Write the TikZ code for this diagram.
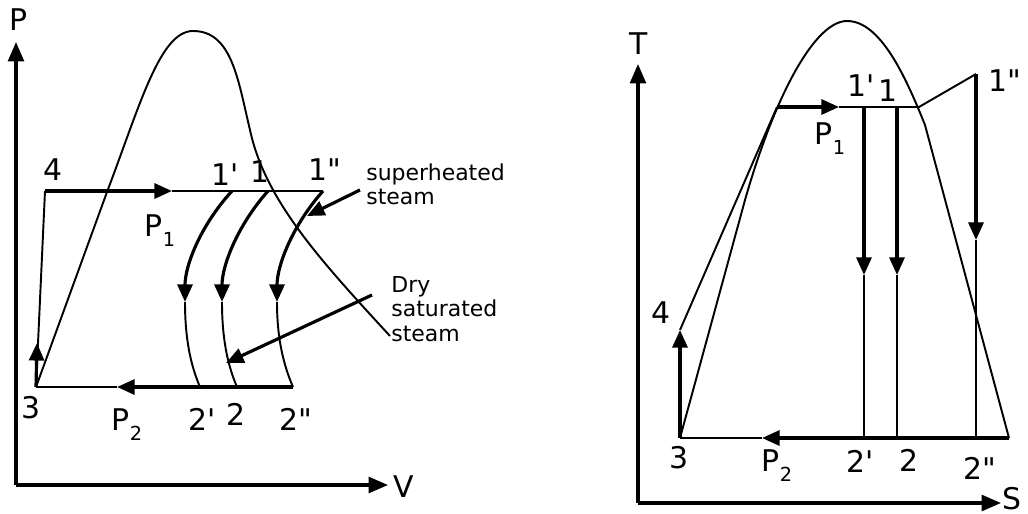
\documentclass[tikz,border=0pt]{standalone}
\usepackage{fontspec}
\setmainfont{DejaVu Sans}
\usetikzlibrary{arrows.meta,positioning}

\tikzset{
  axis/.style={line width=1.8pt, -{Triangle[length=11pt,width=9pt]}},
  flow/.style={line width=1.8pt, -{Triangle[length=10pt,width=8.5pt]}},
  thinline/.style={line width=1.1pt},
  lbl/.style={font=\fontsize{17}{20}\selectfont, inner sep=0pt},
  note/.style={font=\fontsize{12.5}{14}\selectfont, align=left, inner sep=0pt, anchor=north west},
}
\newcommand{\psub}[1]{P\raisebox{-0.6ex}{\fontsize{11}{11}\selectfont #1}}
\newcommand{\pr}{\textquotesingle}
\newcommand{\dpr}{\textquotedbl}

\begin{document}
\begin{tikzpicture}[x=0.02cm, y=-0.02cm, line join=round]
        \useasboundingbox (0,0) rectangle (1028,514);

        % ---------------- P-V diagram ----------------
        % Axes
        \coordinate (pv o) at (16,485);
        \coordinate (pv top) at (16,42);
        \coordinate (pv right) at (388,485);
        \draw[axis] (pv o) -- (pv top);
        \draw[axis] (pv o) -- (pv right);
        \node[lbl] (P) at (19,20) {P};
        \node[lbl] (V) at (404,487) {V};

        % Saturation curve
        \draw[thinline] (36,387) -- (107,192)
            .. controls (140,105) and (160,31) .. (193,31)
            .. controls (232,31) and (238,80) .. (250,130)
            .. controls (265,200) and (320,260) .. (390,336);

        % Cycle points
        \coordinate (a3) at (36,387);
        \coordinate (a4) at (45,191);
        \coordinate (a1p) at (232,191);
        \coordinate (a1) at (268,191);
        \coordinate (a1pp) at (323,191);
        \coordinate (a2p) at (200,387);
        \coordinate (a2) at (237,387);
        \coordinate (a2pp) at (293,387);

        % 3 -> 4
        \draw[thinline] (a3) -- (a4);
        \coordinate (a34) at (37,343);
        \draw[flow] (a3) -- (a34);
        % 4 -> 1'' at P1
        \coordinate (a41) at (172,191);
        \draw[flow] (a4) -- (a41);
        \draw[thinline] (a41) -- (a1pp);
        % 2'' -> 3 at P2
        \coordinate (a23) at (117,387);
        \draw[flow] (a2pp) -- (a23);
        \draw[thinline] (a23) -- (a3);

        % Expansion curves
        \coordinate (e1p) at (185,302);
        \coordinate (e1) at (222,302);
        \coordinate (e1pp) at (277,302);
        \draw[flow] (a1p) .. controls (200,226) and (185,266) .. (e1p);
        \draw[thinline] (e1p) .. controls (185,340) and (191,366) .. (a2p);
        \draw[flow] (a1) .. controls (237,226) and (222,266) .. (e1);
        \draw[thinline] (e1) .. controls (222,340) and (228,366) .. (a2);
        \draw[flow] (a1pp) .. controls (292,226) and (277,266) .. (e1pp);
        \draw[thinline] (e1pp) .. controls (277,340) and (284,366) .. (a2pp);

        % Point labels
        \node[lbl] (l4) at (53,170) {4};
        \node[lbl] (l1p) at (225,175) {1\pr};
        \node[lbl] (l1) at (260,172) {1};
        \node[lbl] (l1pp) at (325,170) {1\dpr};
        \node[lbl] (lp1) at (160,231) {\psub{1}};
        \node[lbl] (l3) at (31,408) {3};
        \node[lbl] (lp2) at (127,425) {\psub{2}};
        \node[lbl] (l2p) at (202,419) {2\pr};
        \node[lbl] (l2) at (236,414) {2};
        \node[lbl] (l2pp) at (296,419) {2\dpr};

        % Notes
        \node[note] (sup) at (366,163) {superheated\\steam};
        \node[note] (dry) at (391,276) {Dry\\saturated\\steam};
        \coordinate (sup tail) at (360,190);
        \coordinate (sup tip) at (307,216);
        \draw[flow] (sup tail) -- (sup tip);
        \coordinate (dry tail) at (372,295);
        \coordinate (dry tip) at (226,363);
        \draw[flow] (dry tail) -- (dry tip);

        % ---------------- T-S diagram ----------------
        % Axes
        \coordinate (ts o) at (638,503);
        \coordinate (ts top) at (638,64);
        \coordinate (ts right) at (1001,503);
        \draw[axis] (ts o) -- (ts top);
        \draw[axis] (ts o) -- (ts right);
        \node[lbl] (T) at (639,44) {T};
        \node[lbl, anchor=east] (S) at (1022,499) {S};

        % Saturation curve
        \draw[thinline] (680,438) -- (745,200)
            .. controls (775,95) and (815,21) .. (847,21)
            .. controls (880,21) and (905,75) .. (925,125)
            -- (1009,438);

        % Cycle points
        \coordinate (b3) at (680,438);
        \coordinate (b4) at (680,330);
        \coordinate (bs) at (777,107);
        \coordinate (b1p) at (864,107);
        \coordinate (b1) at (897,107);
        \coordinate (bsat) at (919,107);
        \coordinate (b1pp) at (976,74);
        \coordinate (b2p) at (864,438);
        \coordinate (b2) at (897,438);
        \coordinate (b2pp) at (976,438);
        \coordinate (bend) at (1009,438);

        % 3 -> 4 -> 1''
        \draw[flow] (b3) -- (b4);
        \draw[thinline] (b4) -- (bs);
        \coordinate (bp1) at (839,107);
        \draw[flow] (bs) -- (bp1);
        \draw[thinline] (bp1) -- (bsat) -- (b1pp);

        % Expansion lines
        \coordinate (f1p) at (864,275);
        \coordinate (f1) at (897,275);
        \coordinate (f1pp) at (976,240);
        \draw[flow] (b1p) -- (f1p);
        \draw[thinline] (f1p) -- (b2p);
        \draw[flow] (b1) -- (f1);
        \draw[thinline] (f1) -- (b2);
        \draw[flow] (b1pp) -- (f1pp);
        \draw[thinline] (f1pp) -- (b2pp);

        % Condensation at P2
        \coordinate (bp2) at (762,438);
        \draw[flow] (bend) -- (bp2);
        \draw[thinline] (bp2) -- (b3);

        % Point labels
        \node[lbl] (m1p) at (861,86) {1\pr};
        \node[lbl] (m1) at (888,91) {1};
        \node[lbl] (m1pp) at (1005,81) {1\dpr};
        \node[lbl] (mp1) at (830,139) {\psub{1}};
        \node[lbl] (m4) at (661,313) {4};
        \node[lbl] (m3) at (679,458) {3};
        \node[lbl] (mp2) at (777,466) {\psub{2}};
        \node[lbl] (m2p) at (860,461) {2\pr};
        \node[lbl] (m2) at (909,460) {2};
        \node[lbl] (m2pp) at (980,468) {2\dpr};
\end{tikzpicture}
\end{document}
